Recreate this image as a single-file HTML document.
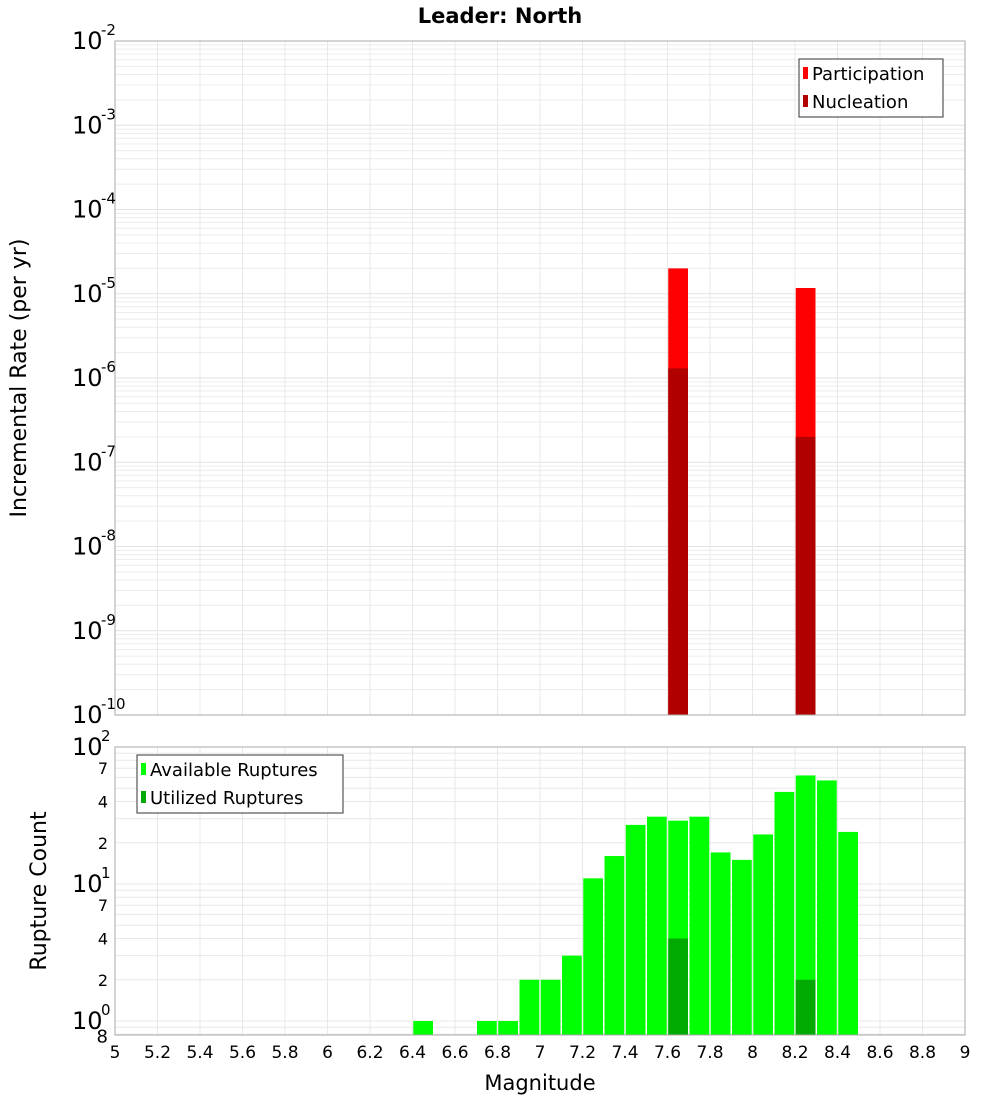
<!DOCTYPE html>
<html><head><meta charset="utf-8"><style>
body{margin:0;background:#fff;font-family:"DejaVu Sans","Liberation Sans",sans-serif;}
svg text{font-family:"DejaVu Sans","Liberation Sans",sans-serif;}
</style></head><body>
<svg id="c" width="1000" height="1100" xmlns="http://www.w3.org/2000/svg">
<text x="500" y="23" text-anchor="middle" font-size="21" font-weight="bold">Leader: North</text>
<text transform="translate(26,378) rotate(-90)" text-anchor="middle" font-size="22">Incremental Rate (per yr)</text>
<text transform="translate(46,891) rotate(-90)" text-anchor="middle" font-size="22">Rupture Count</text>
<text x="540" y="1090" text-anchor="middle" font-size="21">Magnitude</text>
<g id="g"></g>
</svg>
<script>
const topMags=[7.65,8.25];
const participation=[2.0e-5,1.17e-5];
const nucleation=[1.3e-6,2.0e-7];
const botMags=[6.45,6.75,6.85,6.95,7.05,7.15,7.25,7.35,7.45,7.55,7.65,7.75,7.85,7.95,8.05,8.15,8.25,8.35,8.45];
const available=[1,1,1,2,2,3,11,16,27,31,29,31,17,15,23,47,62,57,24];
const utilMags=[7.65,8.25];
const utilized=[4,2];
const xTicks=["5","5.2","5.4","5.6","5.8","6","6.2","6.4","6.6","6.8","7","7.2","7.4","7.6","7.8","8","8.2","8.4","8.6","8.8","9"];
const topExps=[-2,-3,-4,-5,-6,-7,-8,-9,-10];
const botExps=[2,1,0];

const NS="http://www.w3.org/2000/svg";
const g=document.getElementById('g');
const X0=115,X1=965;
const x=m=>X0+(m-5)/4*(X1-X0);
const T0=41,T1=715;
const yT=v=>T0+(-2-Math.log10(v))*(T1-T0)/8;
const B0=747,B1=1035;
const yB=v=>1021-137*Math.log10(v);
function el(t,a,p){const e=document.createElementNS(NS,t);for(const k in a)e.setAttribute(k,a[k]);(p||g).appendChild(e);return e;}

// grids
for(let d=-10;d<-2;d++)for(let k=1;k<10;k++){const yy=yT(k*Math.pow(10,d));
const l=el('line',{x1:X0,x2:X1,y1:yy,y2:yy,stroke:k==1?'#e2e2e2':'#ececec','stroke-width':1});
}
for(let d=-1;d<2;d++)for(let k=1;k<10;k++){const v=k*Math.pow(10,d);const yy=yB(v);if(yy>B1||yy<B0)continue;
const l=el('line',{x1:X0,x2:X1,y1:yy,y2:yy,stroke:'#e8e8e8','stroke-width':1});
}
xTicks.forEach(t=>{const xx=x(+t);
let l=el('line',{x1:xx,x2:xx,y1:T0,y2:T1,stroke:'#e8e8e8'});
l=el('line',{x1:xx,x2:xx,y1:B0,y2:B1,stroke:'#e8e8e8'});
const tx=el('text',{x:xx,y:1058,'text-anchor':'middle','font-size':17});tx.textContent=t;
});

// top bars
const bw=x(5.1)-x(5)-1.5;
topMags.forEach((m,i)=>{
let r=el('rect',{x:x(m)-bw/2,y:yT(participation[i]),width:bw,height:T1-yT(participation[i]),fill:'#ff0000'});

r=el('rect',{x:x(m)-bw/2,y:yT(nucleation[i]),width:bw,height:T1-yT(nucleation[i]),fill:'#b00000'});
});
// bottom bars
botMags.forEach((m,i)=>{const r=el('rect',{x:x(m)-bw/2,y:yB(available[i]),width:bw,height:B1-yB(available[i]),fill:'#00ff00'});
});
utilMags.forEach((m,i)=>{const r=el('rect',{x:x(m)-bw/2,y:yB(utilized[i]),width:bw,height:B1-yB(utilized[i]),fill:'#00aa00'});
});

// frames
let f=el('rect',{x:X0,y:T0,width:X1-X0,height:T1-T0,fill:'none',stroke:'#aaa'});
f=el('rect',{x:X0,y:B0,width:X1-X0,height:B1-B0,fill:'none',stroke:'#aaa'});

// y tick labels
function pow(xx,yy,e,n){const t=el('text',{x:xx,y:yy,'font-size':24});t.textContent='10';

const s=el('text',{x:xx+29,y:yy-14,'font-size':15});s.textContent=String(e);
}
topExps.forEach(e=>pow(72,yT(Math.pow(10,e))+8,e,'top-y-tick-label'));
botExps.forEach(e=>pow(72,yB(Math.pow(10,e))+8,e,'bottom-y-tick-label'));
[[7,''],[4,''],[2,''],[70,''],[40,''],[20,'']].forEach(([v])=>{const t=el('text',{x:108,y:yB(v)+6,'text-anchor':'end','font-size':16});t.textContent=String(v>9?v/10:v);
});
let t8=el('text',{x:108,y:yB(0.8)+8,'text-anchor':'end','font-size':18});t8.textContent='8';


// legends
function legend(x0,y0,w,h,items,n){const gg=el('g',{});
el('rect',{x:x0,y:y0,width:w,height:h,fill:'#fff',stroke:'#333'},gg);
items.forEach(([c,label],i)=>{const yy=y0+14+i*28;
el('rect',{x:x0+4,y:yy-6,width:5,height:12,fill:c},gg);
const t=el('text',{x:x0+13,y:yy+7,'font-size':18},gg);t.textContent=label;
});}
legend(799,59,144,58,[['#ff0000','Participation'],['#b00000','Nucleation']],'top-legend');
legend(137,755,206,58,[['#00ff00','Available Ruptures'],['#00aa00','Utilized Ruptures']],'bottom-legend');
</script>
</body></html>
